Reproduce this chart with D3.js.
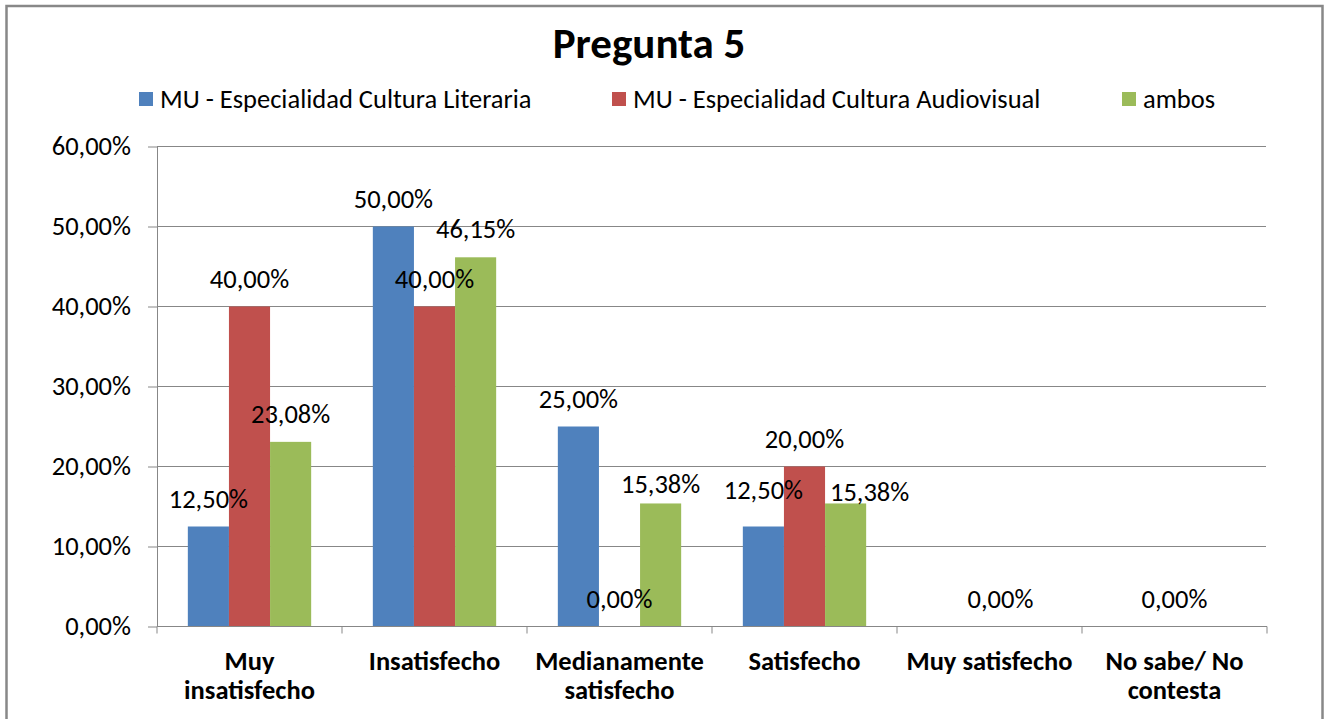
<!DOCTYPE html>
<html lang="es">
<head>
    <meta charset="UTF-8">
    <title>Pregunta 5</title>
    <script src="https://d3js.org/d3.v7.min.js"></script>
    <style>
        body { margin: 0; background: #fff; }
        svg { display: block; font-family: Carlito, Calibri, Roboto, sans-serif; }
        .grid line { stroke: #878787; stroke-width: 1; }
        .axis path, .axis line { stroke: #878787; stroke-width: 1; }
        .axis text { fill: #000; }
        .label { font-size: 26.5px; fill: #000; }
    </style>
</head>
<body>
    <svg width="1325" height="719"></svg>
    <script>
        // Données
        const categories = [
            "Muy\ninsatisfecho",
            "Insatisfecho",
            "Medianamente\nsatisfecho",
            "Satisfecho",
            "Muy satisfecho",
            "No sabe/ No\ncontesta"
        ];
        const seriesNames = [
            "MU - Especialidad Cultura Literaria",
            "MU - Especialidad Cultura Audiovisual",
            "ambos"
        ];
        const literaria    = [0.125, 0.50, 0.25, 0.125, null, null];
        const audiovisual  = [0.40, 0.40, 0.00, 0.20, 0.00, 0.00];
        const ambos        = [0.2308, 0.4615, 0.1538, 0.1538, null, null];
        const yTicks = [0, 0.1, 0.2, 0.3, 0.4, 0.5, 0.6];

        const colors = ["#4F81BD", "#C0504D", "#9BBB59"];

        // petits déplacements manuels des étiquettes (série-catégorie) -> [dx, dy]
        const labelNudge = {
            "0-3": [0, -9],
            "2-2": [0, 9],
            "2-3": [24, 17],
            "1-4": [11, 0]
        };

        const values = [literaria, audiovisual, ambos];
        const rows = [];
        values.forEach((arr, s) => arr.forEach((v, c) => {
            if (v !== null) rows.push({ s, c, v });
        }));

        const svg = d3.select("svg");

        // format à l'espagnole : 12,50%
        const es = d3.formatLocale({ decimal: ",", thousands: ".", grouping: [3], currency: ["", "€"] });
        const pct = es.format(".2%");

        // zone du graphique
        const plotLeft = 157, plotRight = 1267, plotTop = 146.5, plotBottom = 626.5;

        const x = d3.scaleBand().domain(d3.range(categories.length)).range([plotLeft, plotRight]).padding(0);
        const xs = d3.scaleBand().domain(d3.range(seriesNames.length))
            .range([0, x.bandwidth()]).paddingInner(0).paddingOuter(0.75);
        const y = d3.scaleLinear().domain([0, 0.6]).range([plotBottom, plotTop]);

        // cadre
        svg.append("rect")
            .attr("x", 6.5).attr("y", 6).attr("width", 1316).attr("height", 730)
            .attr("fill", "none").attr("stroke", "#888").attr("stroke-width", 2.5);

        // titre
        svg.append("text")
            .attr("x", 649).attr("y", 58)
            .attr("text-anchor", "middle")
            .attr("font-size", 43).attr("font-weight", "bold")
            .text("Pregunta 5");

        // légende
        const legendX = [139, 612, 1122];
        const legend = svg.append("g").selectAll("g")
            .data(seriesNames).join("g")
            .attr("transform", (d, i) => `translate(${legendX[i]},0)`);
        legend.append("rect")
            .attr("x", 0).attr("y", 92).attr("width", 14).attr("height", 14)
            .attr("fill", (d, i) => colors[i]);
        legend.append("text")
            .attr("x", 21).attr("y", 108)
            .attr("font-size", 26.5)
            .text(d => d);

        // grille horizontale
        svg.append("g").attr("class", "grid")
            .selectAll("line").data(yTicks.slice(1)).join("line")
            .attr("x1", plotLeft).attr("x2", plotRight - 1)
            .attr("y1", d => y(d)).attr("y2", d => y(d));

        // axe Y
        const yAxis = svg.append("g").attr("class", "axis")
            .attr("transform", `translate(${plotLeft},0)`)
            .call(d3.axisLeft(y).tickValues(yTicks).tickFormat(pct).tickSize(9).tickSizeOuter(0).tickPadding(17));
        yAxis.selectAll("text").attr("font-size", 26.5);
        yAxis.attr("font-family", null).attr("font-size", null);

        // barres
        svg.append("g").selectAll("rect")
            .data(rows).join("rect")
            .attr("x", d => x(d.c) + xs(d.s))
            .attr("y", d => y(d.v))
            .attr("width", xs.bandwidth())
            .attr("height", d => y(0) - y(d.v))
            .attr("fill", d => colors[d.s]);

        // axe X : ligne, graduations aux limites des catégories
        const xAxis = svg.append("g").attr("class", "axis")
            .attr("transform", `translate(0,${plotBottom})`);
        xAxis.append("line").attr("x1", plotLeft).attr("x2", plotRight);
        xAxis.selectAll(".tick-b")
            .data(d3.range(categories.length + 1)).join("line")
            .attr("class", "tick-b")
            .attr("x1", i => i < categories.length ? x(i) : plotRight)
            .attr("x2", i => i < categories.length ? x(i) : plotRight)
            .attr("y1", 0).attr("y2", 7);

        // étiquettes des catégories
        const catLabels = xAxis.selectAll(".cat")
            .data(categories).join("text")
            .attr("class", "cat")
            .attr("text-anchor", "middle")
            .attr("font-size", 26.5).attr("font-weight", "bold");
        catLabels.selectAll("tspan")
            .data((d, i) => d.split("\n").map(t => ({ t, i })))
            .join("tspan")
            .attr("x", d => x(d.i) + x.bandwidth() / 2)
            .attr("y", (d, j) => 43 + j * 29)
            .text(d => d.t);

        // étiquettes de données
        svg.append("g").selectAll("text")
            .data(rows).join("text")
            .attr("class", "label")
            .attr("text-anchor", "middle")
            .attr("x", d => x(d.c) + xs(d.s) + xs.bandwidth() / 2 + (labelNudge[d.s + "-" + d.c] || [0, 0])[0])
            .attr("y", d => y(d.v) - 19 + (labelNudge[d.s + "-" + d.c] || [0, 0])[1])
            .text(d => pct(d.v));
    </script>
</body>
</html>
